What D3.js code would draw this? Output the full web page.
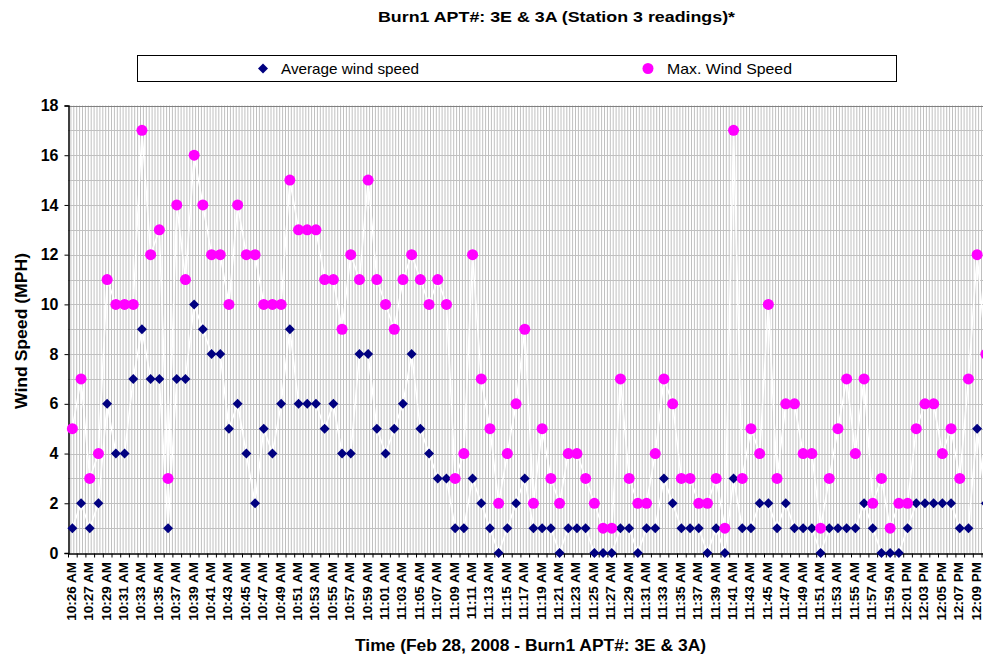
<!DOCTYPE html>
<html>
<head>
<meta charset="utf-8">
<script src="https://cdn.jsdelivr.net/npm/d3@7"></script>
<style>
  html, body { margin: 0; padding: 0; background: #fff; }
  svg { display: block; }
  text { font-family: "Liberation Sans", Arial, sans-serif; }
</style>
</head>
<body>
<svg id="chart" width="983" height="658"></svg>
<script>
// ---------- data ----------
const avgSpeed = [
  1,2,1,2,6,4,4,7,9,7,
  7,1,7,7,10,9,8,8,5,6,
  4,2,5,4,6,9,6,6,6,5,
  6,4,4,8,8,5,4,5,6,8,
  5,4,3,3,1,1,3,2,1,0,
  1,2,3,1,1,1,0,1,1,1,
  0,0,0,1,1,0,1,1,3,2,
  1,1,1,0,1,0,3,1,1,2,
  2,1,2,1,1,1,0,1,1,1,
  1,2,1,0,0,0,1,2,2,2,
  2,2,1,1,5,2
];
const maxSpeed = [
  5,7,3,4,11,10,10,10,17,12,
  13,3,14,11,16,14,12,12,10,14,
  12,12,10,10,10,15,13,13,13,11,
  11,9,12,11,15,11,10,9,11,12,
  11,10,11,10,3,4,12,7,5,2,
  4,6,9,2,5,3,2,4,4,3,
  2,1,1,7,3,2,2,4,7,6,
  3,3,2,2,3,1,17,3,5,4,
  10,3,6,6,4,4,1,3,5,7,
  4,7,2,3,1,2,2,5,6,6,
  4,5,3,7,12,8
];
const tickLabels = [
  "10:26 AM","10:27 AM","10:29 AM","10:31 AM","10:33 AM","10:35 AM","10:37 AM","10:39 AM",
  "10:41 AM","10:43 AM","10:45 AM","10:47 AM","10:49 AM","10:51 AM","10:53 AM","10:55 AM",
  "10:57 AM","10:59 AM","11:01 AM","11:03 AM","11:05 AM","11:07 AM","11:09 AM","11:11 AM",
  "11:13 AM","11:15 AM","11:17 AM","11:19 AM","11:21 AM","11:23 AM","11:25 AM","11:27 AM",
  "11:29 AM","11:31 AM","11:33 AM","11:35 AM","11:37 AM","11:39 AM","11:41 AM","11:43 AM",
  "11:45 AM","11:47 AM","11:49 AM","11:51 AM","11:53 AM","11:55 AM","11:57 AM","11:59 AM",
  "12:01 PM","12:03 PM","12:05 PM","12:07 PM","12:09 PM"
];
const yTicks = [0,2,4,6,8,10,12,14,16,18];
const seriesNames = ["Average wind speed", "Max. Wind Speed"];
const chartTitle = "Burn1 APT#: 3E & 3A (Station 3 readings)*";
const xTitle = "Time (Feb 28, 2008 - Burn1 APT#: 3E & 3A)";
const yTitle = "Wind Speed (MPH)";

// ---------- layout ----------
const N = avgSpeed.length;
const plotLeft = 68, plotTop = 105.5, plotBottom = 553, step = 8.7;
const svg = d3.select("#chart");

const x = d3.scaleBand().domain(d3.range(N)).range([plotLeft, plotLeft + step * N]).padding(0);
const sub = d3.scaleLinear().domain([0, N * 3]).range([plotLeft, plotLeft + step * N]);
const y = d3.scaleLinear().domain([0, 18]).range([plotBottom, plotTop]);

const navy = "#000080", magenta = "#ff00ff", grid = "#c0c0c0";

// vertical gridlines (one per sub-category)
svg.append("g").selectAll("line").data(d3.range(1, N * 3 + 1)).join("line")
  .attr("x1", d => sub(d)).attr("x2", d => sub(d))
  .attr("y1", plotTop).attr("y2", plotBottom)
  .attr("stroke", grid).attr("stroke-width", 1);

// horizontal gridlines
svg.append("g").selectAll("line").data(d3.range(1, 19)).join("line")
  .attr("x1", plotLeft).attr("x2", 983)
  .attr("y1", d => Math.round(y(d)) + 0.5).attr("y2", d => Math.round(y(d)) + 0.5)
  .attr("stroke", d => d === 18 ? "#808080" : grid).attr("stroke-width", 1);

// white connecting lines
const cx = i => x(i) + x.bandwidth() / 2;
const lineGen = d3.line().x((d, i) => cx(i)).y(d => y(d));
svg.append("path").datum(avgSpeed).attr("d", lineGen).attr("fill", "none").attr("stroke", "#fff").attr("stroke-width", 1.5);
svg.append("path").datum(maxSpeed).attr("d", lineGen).attr("fill", "none").attr("stroke", "#fff").attr("stroke-width", 1.5);

// axes
const yAxis = d3.axisLeft(y).tickValues(yTicks).tickSize(4).tickPadding(6);
const gy = svg.append("g").attr("transform", `translate(${plotLeft + 0.5},0)`).call(yAxis);
gy.select(".domain").attr("stroke", "#000").attr("stroke-width", 1.5);
gy.selectAll(".tick line").attr("stroke", "#000");
gy.selectAll(".tick text").attr("font-size", 16).attr("font-weight", "bold").attr("fill", "#000")
  .attr("font-family", "Liberation Sans, Arial, sans-serif");

const xTickAxis = d3.axisBottom(sub).tickValues(d3.range(0, N * 3 + 1, 3)).tickFormat("").tickSize(4).tickSizeOuter(0);
const gx = svg.append("g").attr("transform", `translate(0,${plotBottom + 0.5})`).call(xTickAxis);
gx.select(".domain").attr("stroke", "#000").attr("stroke-width", 1.5);
gx.selectAll(".tick line").attr("stroke", "#000");

const xLabelAxis = d3.axisBottom(x).tickValues(d3.range(0, N, 2).filter(i => i / 2 < tickLabels.length))
  .tickFormat(i => tickLabels[i / 2]).tickSize(0);
const gxl = svg.append("g").attr("transform", `translate(0,${plotBottom})`).call(xLabelAxis);
gxl.select(".domain").remove();
gxl.selectAll(".tick text")
  .attr("font-size", 13.5).attr("font-weight", "bold").attr("fill", "#000")
  .attr("font-family", "Liberation Sans, Arial, sans-serif")
  .attr("text-anchor", "end")
  .attr("transform", "rotate(-90)")
  .attr("x", -9).attr("y", -1).attr("dy", "0.33em");

// markers
const diamond = s => `M0,${-s}L${s},0L0,${s}L${-s},0Z`;
svg.append("g").selectAll("path").data(avgSpeed).join("path")
  .attr("d", diamond(5))
  .attr("transform", (d, i) => `translate(${cx(i)},${y(d)})`)
  .attr("fill", navy);
svg.append("g").selectAll("circle").data(maxSpeed).join("circle")
  .attr("cx", (d, i) => cx(i)).attr("cy", d => y(d)).attr("r", 5.5)
  .attr("fill", magenta);

// title
svg.append("text").attr("x", 378).attr("y", 21.5).attr("font-size", 14.5).attr("font-weight", "bold")
  .attr("textLength", 357).attr("lengthAdjust", "spacingAndGlyphs").text(chartTitle);

// legend
svg.append("rect").attr("x", 137.5).attr("y", 55.5).attr("width", 759).attr("height", 26)
  .attr("fill", "#fff").attr("stroke", "#000").attr("stroke-width", 1);
svg.append("path").attr("d", diamond(5)).attr("transform", "translate(263,68.5)").attr("fill", navy);
svg.append("circle").attr("cx", 648).attr("cy", 68.5).attr("r", 5.5).attr("fill", magenta);
svg.append("text").attr("x", 281).attr("y", 73.5).attr("font-size", 14.5)
  .attr("textLength", 138).attr("lengthAdjust", "spacingAndGlyphs").text(seriesNames[0]);
svg.append("text").attr("x", 667).attr("y", 73.5).attr("font-size", 14.5)
  .attr("textLength", 125).attr("lengthAdjust", "spacingAndGlyphs").text(seriesNames[1]);

// axis titles
svg.append("text").attr("x", 355).attr("y", 651).attr("font-size", 16).attr("font-weight", "bold")
  .attr("textLength", 351).attr("lengthAdjust", "spacingAndGlyphs").text(xTitle);
svg.append("text").attr("transform", "translate(27,409) rotate(-90)").attr("font-size", 16.5).attr("font-weight", "bold")
  .attr("textLength", 156).attr("lengthAdjust", "spacingAndGlyphs").text(yTitle);
</script>
</body>
</html>
